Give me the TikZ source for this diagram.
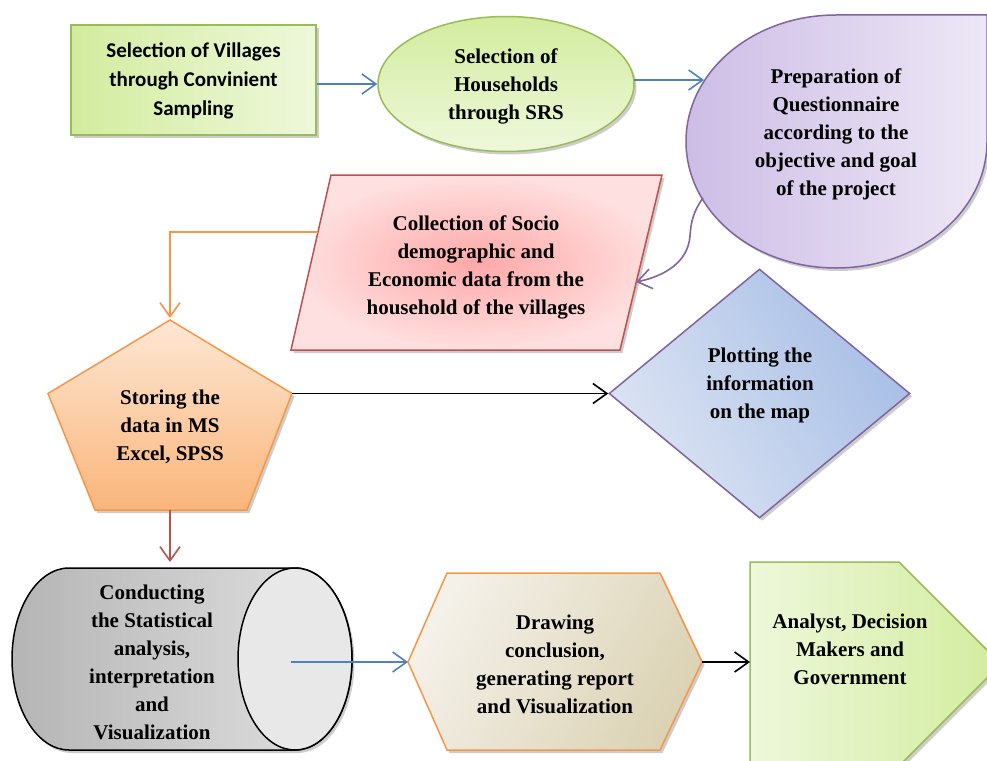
\documentclass[tikz,border=0pt]{standalone}
\usepackage{fontspec}
\setmainfont{Liberation Serif}
\newfontfamily\serfont{Liberation Serif}
\newfontfamily\calfont{Carlito}
\usetikzlibrary{arrows.meta,shapes.geometric,shadows}
\definecolor{gborder}{HTML}{9BBB59}
\definecolor{gA}{HTML}{D2EC9E}
\definecolor{gB}{HTML}{EEF8DB}
\definecolor{purC}{HTML}{8064A2}
\definecolor{pA}{HTML}{CDBDE6}
\definecolor{pB}{HTML}{EDE7F6}
\definecolor{redC}{HTML}{C0504D}
\definecolor{rA}{HTML}{FFA8A8}
\definecolor{rB}{HTML}{FFE0E0}
\definecolor{orgC}{HTML}{F79646}
\definecolor{oA}{HTML}{FDE7D4}
\definecolor{oB}{HTML}{FAB57A}
\definecolor{bA}{HTML}{A7BEE6}
\definecolor{bB}{HTML}{DCE4F3}
\definecolor{cA}{HTML}{B5B5B5}
\definecolor{cB}{HTML}{E2E2E2}
\definecolor{cE}{HTML}{E8E8E8}
\definecolor{hA}{HTML}{F4F1E9}
\definecolor{hB}{HTML}{DCD3B5}
\definecolor{blueC}{HTML}{4F81BD}
\begin{document}
\begin{tikzpicture}[x=1pt,y=-1pt,
  txt/.style={font=\serfont\fontsize{21}{28}\selectfont\bfseries, align=center, inner sep=0pt},
  caltxt/.style={font=\calfont\fontsize{21}{29}\selectfont\bfseries, align=center, inner sep=0pt},
  shad/.style={drop shadow={shadow xshift=2.5pt,shadow yshift=-3pt,opacity=0.28,fill=black!70}},
  border/.style={line width=1.5pt},
  conn/.style={line width=1.6pt, -{Straight Barb[length=14pt,width=20pt]}},
]
\useasboundingbox (0,0) rectangle (987,760);

% 1 rectangle
\node[shad, border, draw=gborder, left color=gA, right color=gB, minimum width=245pt, minimum height=110pt, inner sep=0pt] (vill) at (193.5,80) {};
\node[caltxt] (villT) at (193.5,81) {Selection of Villages\\through Convinient\\Sampling};

% 2 ellipse
\node[shad, border, ellipse, draw=gborder, top color=gA, bottom color=gB, minimum width=256pt, minimum height=135pt, inner sep=0pt] (hh) at (506,84) {};
\node[txt] (hhT) at (506,86) {Selection of\\Households\\through SRS};

% 3 teardrop
\path[shad, border, draw=purC, left color=pA, right color=pB]
  (836,15) -- (987,15) -- (987,141.5)
  .. controls (987,211.4) and (919.1,268) .. (836,268)
  .. controls (752.9,268) and (686,211.4) .. (686,141.5)
  .. controls (686,71.6) and (752.9,15) .. (836,15) -- cycle;
\node[txt] (prep) at (836,134) {Preparation of\\Questionnaire\\according to the\\objective and goal\\of the project};
\coordinate (tdL) at (704,80);
\coordinate (tdLL) at (703,198);

% 4 parallelogram
\path[shad, border, draw=redC, inner color=rA, outer color=rB]
  (331,175) -- (662,175) -- (620,350) -- (291,350) -- cycle;
\node[txt] (coll) at (476,267) {Collection of Socio\\demographic and\\Economic data from the\\household of the villages};
\coordinate (paraL) at (318,232);
\coordinate (paraR) at (636,282);

% 5 pentagon
\path[shad, border, draw=orgC, top color=oA, bottom color=oB]
  (170,320) -- (292,393.5) -- (247,510) -- (95,510) -- (48,393.5) -- cycle;
\node[txt] (store) at (170,427) {Storing the\\data in MS\\Excel, SPSS};
\coordinate (pentT) at (170,318);
\coordinate (pentR) at (292,393.5);
\coordinate (pentB) at (170,510);

% 6 diamond
\node[shad, border, diamond, draw=purC, left color=bB, right color=bA, shading angle=120, minimum width=301pt, minimum height=249pt, inner sep=0pt] (plot) at (759.5,393.5) {};
\node[txt] (plotT) at (760,385.5) {Plotting the\\information\\on the map};

% 7 cylinder
\path[shad, border, draw=black, left color=cA, right color=cB]
  (69,568) -- (295,568)
  .. controls (326.5,568) and (352,608.7) .. (352,659)
  .. controls (352,709.3) and (326.5,750) .. (295,750)
  -- (69,750)
  .. controls (37.5,750) and (12,709.3) .. (12,659)
  .. controls (12,608.7) and (37.5,568) .. (69,568) -- cycle;
\path[border, draw=black, fill=cE] (295,659) ellipse [x radius=57pt, y radius=91pt];
\node[txt] (cyl) at (152,662.5) {Conducting\\the Statistical\\analysis,\\interpretation\\and\\Visualization};
\coordinate (cylIn) at (291,662);
\coordinate (cylT) at (170,562);

% 8 hexagon
\path[shad, border, draw=orgC, left color=hA, right color=hB, shading angle=60]
  (408,662) -- (447,573) -- (660,573) -- (702,662) -- (660,750) -- (447,750) -- cycle;
\node[txt] (concl) at (555,664) {Drawing\\conclusion,\\generating report\\and Visualization};
\coordinate (hexL) at (408,662);
\coordinate (hexR) at (702,662);

% 9 home plate
\path[shad, border, draw=gborder, left color=gB, right color=gA]
  (750,562) -- (899,562) -- (1001,664) -- (899,766) -- (750,766) -- cycle;
\node[txt] (anal) at (850,649) {Analyst, Decision\\Makers and\\Government};
\coordinate (homeL) at (750,662);

% connectors
\draw[conn, blueC] (vill.east |- hh.west) -- (hh.west);
\draw[conn, blueC] (634,80) coordinate (hhE) -- (tdL);
\draw[conn, purC] (tdLL) .. controls (693,212) and (691,222) .. (690,236)
   .. controls (688,262) and (665,276) .. (paraR);
\draw[conn, orgC] (paraL) -| (pentT);
\draw[conn, black] (pentR) -- (plot.west);
\draw[conn, redC] (pentB) -- (cylT);
\draw[conn, blueC] (cylIn) -- (hexL);
\draw[conn, black] (hexR) -- (homeL);
\end{tikzpicture}
\end{document}
